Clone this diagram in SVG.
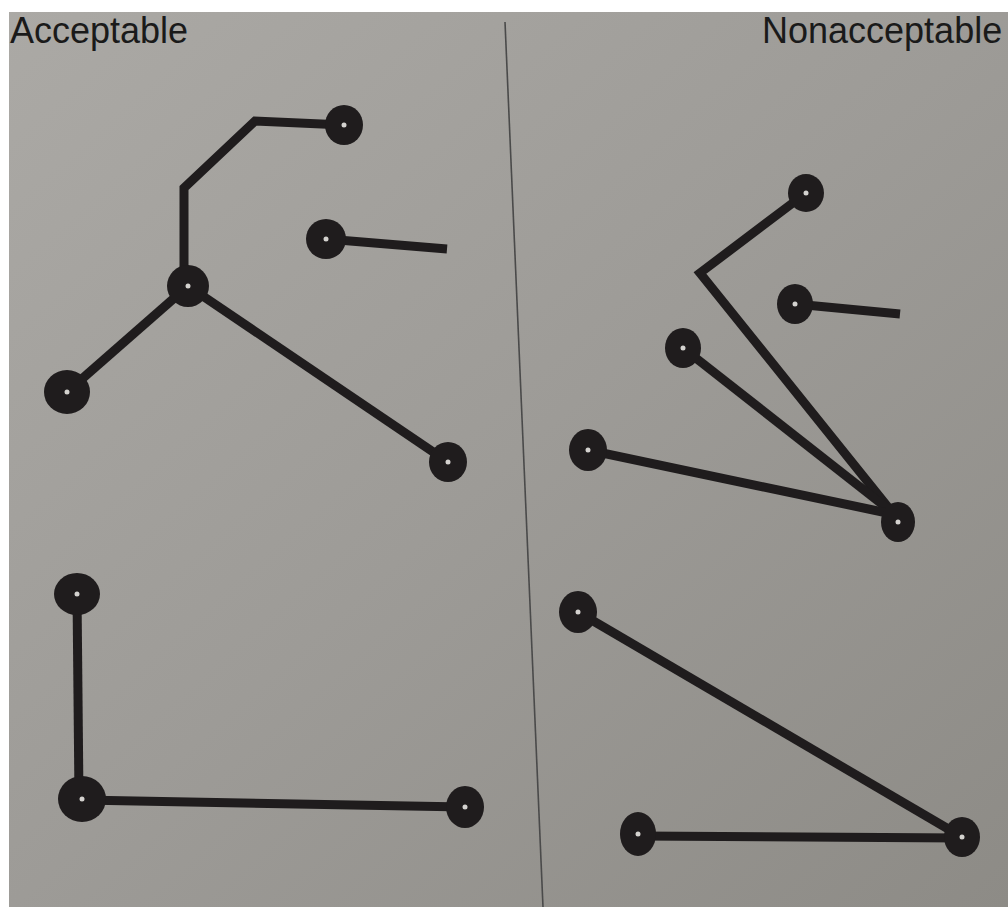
<svg xmlns="http://www.w3.org/2000/svg" width="1008" height="907" viewBox="0 0 1008 907">
<defs>
<linearGradient id="paper" x1="0" y1="0" x2="1" y2="1">
<stop offset="0" stop-color="#aba9a5"/>
<stop offset="0.5" stop-color="#9d9b97"/>
<stop offset="1" stop-color="#8d8b86"/>
</linearGradient>
</defs>
<style>
.trace{fill:none;stroke:#1f1c1d;stroke-width:9;stroke-linejoin:miter;stroke-linecap:butt}
.pad{fill:#1f1c1d}
.hole{fill:#d4d2cf}
.label{font-family:"Liberation Sans",Arial,sans-serif;font-size:36px;fill:#1a1a1a}
</style>
<rect x="0" y="0" width="1008" height="907" fill="#ffffff"/>
<rect x="9" y="12" width="999" height="895" fill="url(#paper)"/>
<line x1="505" y1="22" x2="543" y2="907" stroke="#4a4a4a" stroke-width="1.6"/>
<text class="label" x="10" y="43">Acceptable</text>
<text class="label" x="762" y="43">Nonacceptable</text>
<g id="connectors">
<path class="trace" d="M344,125 L255,121 L184,188 L184,286"/>
<path class="trace" d="M326,239 L447,249"/>
<path class="trace" d="M188,286 L67,392"/>
<path class="trace" d="M188,286 L448,462"/>
<path class="trace" d="M77,594 L79,799"/>
<path class="trace" d="M82,800 L465,807"/>
<path class="trace" d="M806,193 L700,273 L892,512"/>
<path class="trace" d="M795,304 L900,314"/>
<path class="trace" d="M683,348 L892,512"/>
<path class="trace" d="M588,450 L892,514"/>
<path class="trace" d="M578,612 L962,837"/>
<path class="trace" d="M638,836 L962,838"/>
</g>
<g id="a-pad-top"><ellipse class="pad" cx="344" cy="125" rx="19" ry="20"/><circle class="hole" cx="344" cy="125" r="2.5"/></g>
<g id="a-pad-stub"><ellipse class="pad" cx="326" cy="239" rx="20" ry="20"/><circle class="hole" cx="326" cy="239" r="2.5"/></g>
<g id="a-pad-center"><ellipse class="pad" cx="188" cy="286" rx="21" ry="21"/><circle class="hole" cx="188" cy="286" r="2.5"/></g>
<g id="a-pad-left"><ellipse class="pad" cx="67" cy="392" rx="23" ry="22"/><circle class="hole" cx="67" cy="392" r="2.5"/></g>
<g id="a-pad-right"><ellipse class="pad" cx="448" cy="462" rx="19" ry="20"/><circle class="hole" cx="448" cy="462" r="2.5"/></g>
<g id="a-pad-l-top"><ellipse class="pad" cx="77" cy="594" rx="23" ry="21"/><circle class="hole" cx="77" cy="594" r="2.5"/></g>
<g id="a-pad-l-corner"><ellipse class="pad" cx="82" cy="799" rx="24" ry="23"/><circle class="hole" cx="82" cy="799" r="2.5"/></g>
<g id="a-pad-l-right"><ellipse class="pad" cx="465" cy="807" rx="19" ry="21"/><circle class="hole" cx="465" cy="807" r="2.5"/></g>
<g id="n-pad-top"><ellipse class="pad" cx="806" cy="193" rx="18" ry="19"/><circle class="hole" cx="806" cy="193" r="2.5"/></g>
<g id="n-pad-stub"><ellipse class="pad" cx="795" cy="304" rx="18" ry="20"/><circle class="hole" cx="795" cy="304" r="2.5"/></g>
<g id="n-pad-mid"><ellipse class="pad" cx="683" cy="348" rx="18" ry="20"/><circle class="hole" cx="683" cy="348" r="2.5"/></g>
<g id="n-pad-left"><ellipse class="pad" cx="588" cy="450" rx="19" ry="21"/><circle class="hole" cx="588" cy="450" r="2.5"/></g>
<g id="n-pad-hub"><ellipse class="pad" cx="898" cy="522" rx="17" ry="20"/><circle class="hole" cx="898" cy="522" r="2.5"/></g>
<g id="n-pad-tri-top"><ellipse class="pad" cx="578" cy="612" rx="19" ry="21"/><circle class="hole" cx="578" cy="612" r="2.5"/></g>
<g id="n-pad-tri-left"><ellipse class="pad" cx="638" cy="834" rx="18" ry="22"/><circle class="hole" cx="638" cy="834" r="2.5"/></g>
<g id="n-pad-tri-right"><ellipse class="pad" cx="962" cy="837" rx="18" ry="20"/><circle class="hole" cx="962" cy="837" r="2.5"/></g>
</svg>
